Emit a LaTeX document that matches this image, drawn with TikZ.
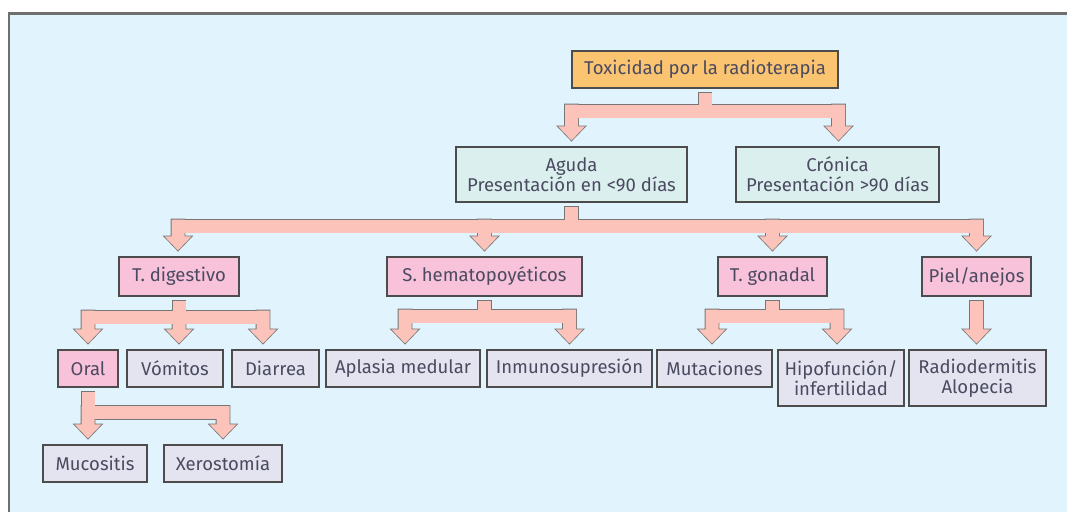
\documentclass[tikz,border=0pt]{standalone}
\usepackage{fontspec}
\setmainfont{Fira Sans}
\usetikzlibrary{calc}

\definecolor{bgblue}{HTML}{E1F3FD}
\definecolor{framegray}{HTML}{6F6F6F}
\definecolor{txt}{HTML}{4A4A60}
\definecolor{orangebox}{HTML}{FBC470}
\definecolor{mintbox}{HTML}{DBF0EE}
\definecolor{pinkbox}{HTML}{F8C2DA}
\definecolor{greybox}{HTML}{E3E4F0}
\definecolor{connbg}{HTML}{FCC3BA}
\definecolor{connedge}{HTML}{767676}

\tikzset{
  box/.style={draw=black!70, line width=1.2pt, text=txt, inner sep=1pt, align=center,
    font=\fontsize{18.5}{20}\selectfont},
  rootbox/.style={box, fill=orangebox},
  phasebox/.style={box, fill=mintbox},
  organbox/.style={box, fill=pinkbox},
  effectbox/.style={box, fill=greybox},
  connline/.style={draw=connedge, line width=1.6pt, line join=miter},
  connfill/.style={fill=connbg},
}

% stem below a parent box: style, parent, bar
\newcommand{\connstem}[3]{%
  \path[#1] ($(#2.south)+(-6.5,4)$) rectangle ($(#2.south |- #3)+(6.5,0)$);}
% bar piece and block arrow to a child: style, parent, bar, child, x offset of the tip
\newcommand{\connleg}[5]{%
  \path ($(#4.north)+(#5,-6)$) coordinate (tip);
  \path[#1] ($(#2.south |- #3)+(0,-6.5)$) rectangle ($(tip |- #3)+(0,6.5)$);
  \path[#1] ($(tip |- #3)+(-6.5,-6.5)$) -- ($(tip)+(-6.5,-14)$) -- ($(tip)+(-13.5,-14)$) -- (tip)
    -- ($(tip)+(13.5,-14)$) -- ($(tip)+(6.5,-14)$) -- ($(tip |- #3)+(6.5,-6.5)$) -- cycle;}

\begin{document}
\begin{tikzpicture}[x=1pt,y=-1pt]

\useasboundingbox (0,0) rectangle (1067,512);
\fill[bgblue] (9,13) rectangle (1067,512);
\draw[framegray, line width=2.5pt] (9,512) -- (9,13.5) -- (1067,13.5);

\node[rootbox, minimum width=266pt, minimum height=37pt] (tox) at (705,69.5) {Toxicidad por la radioterapia};

\node[phasebox, minimum width=231pt, minimum height=55pt] (agu) at (571.5,174.5) {Aguda\\Presentación en <90 días};
\node[phasebox, minimum width=203pt, minimum height=55pt] (cro) at (837.5,174.5) {Crónica\\Presentación >90 días};

\node[organbox, minimum width=120pt, minimum height=39pt] (dig) at (179,276.5) {T. digestivo};
\node[organbox, minimum width=195pt, minimum height=39pt] (hem) at (484.5,276.5) {S. hematopoyéticos};
\node[organbox, minimum width=109pt, minimum height=39pt] (gon) at (772.5,276.5) {T. gonadal};
\node[organbox, minimum width=109pt, minimum height=39pt] (piel) at (976.5,276.5) {Piel/anejos};

\node[organbox, minimum width=60pt, minimum height=37pt] (oral) at (88,368.5) {Oral};
\node[effectbox, minimum width=96pt, minimum height=37pt] (vom) at (175,368.5) {Vómitos};
\node[effectbox, minimum width=87pt, minimum height=37pt] (dia) at (275.5,368.5) {Diarrea};
\node[effectbox, minimum width=154pt, minimum height=37pt] (apl) at (403,368.5) {Aplasia medular};
\node[effectbox, minimum width=165pt, minimum height=37pt] (inm) at (569.5,368.5) {Inmunosupresión};
\node[effectbox, minimum width=115pt, minimum height=37pt] (mut) at (714.5,368.5) {Mutaciones};
\node[effectbox, minimum width=126pt, minimum height=56pt] (hip) at (841,378) {Hipofunción/\\infertilidad};
\node[effectbox, minimum width=137pt, minimum height=56pt] (rad) at (977.5,378) {Radiodermitis\\Alopecia};

\node[effectbox, minimum width=104pt, minimum height=37pt] (muc) at (95,463.5) {Mucositis};
\node[effectbox, minimum width=118pt, minimum height=37pt] (xer) at (223,463.5) {Xerostomía};

% bars
\coordinate (b1) at (0,111);
\coordinate (b2) at (0,226);
\coordinate (b3) at (0,317);
\coordinate (b4) at (0,316);
\coordinate (b5) at (0,412.5);

% outlines first, fills on top
\foreach \lay in {connline,connfill} {
  \connstem{\lay}{tox}{b1}
  \connleg{\lay}{tox}{b1}{agu}{0}
  \connleg{\lay}{tox}{b1}{cro}{1}
  \connstem{\lay}{agu}{b2}
  \connleg{\lay}{agu}{b2}{dig}{-1}
  \connleg{\lay}{agu}{b2}{hem}{0}
  \connleg{\lay}{agu}{b2}{gon}{0}
  \connleg{\lay}{agu}{b2}{piel}{0}
  \connstem{\lay}{dig}{b3}
  \connleg{\lay}{dig}{b3}{oral}{0}
  \connleg{\lay}{dig}{b3}{vom}{4}
  \connleg{\lay}{dig}{b3}{dia}{-12.5}
  \connstem{\lay}{hem}{b4}
  \connleg{\lay}{hem}{b4}{apl}{2}
  \connleg{\lay}{hem}{b4}{inm}{0}
  \connstem{\lay}{gon}{b4}
  \connleg{\lay}{gon}{b4}{mut}{-2.5}
  \connleg{\lay}{gon}{b4}{hip}{-4}
  \connstem{\lay}{piel}{b4}
  \connleg{\lay}{piel}{b4}{rad}{-1}
  \connstem{\lay}{oral}{b5}
  \connleg{\lay}{oral}{b5}{muc}{-7}
  \connleg{\lay}{oral}{b5}{xer}{0}
}

\end{tikzpicture}
\end{document}
